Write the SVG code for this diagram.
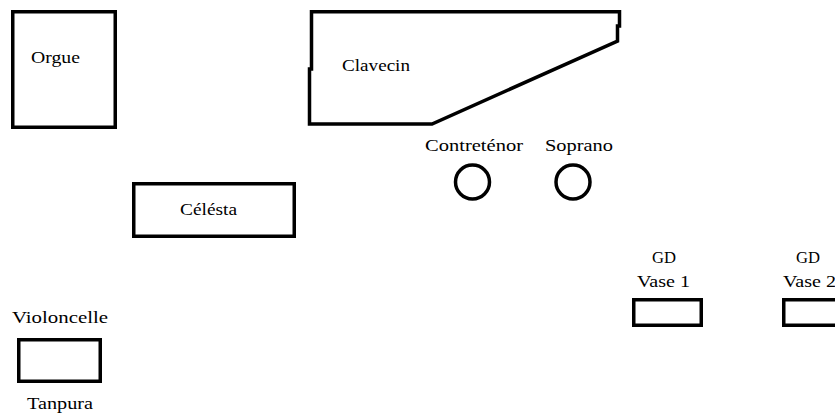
<svg xmlns="http://www.w3.org/2000/svg" width="835" height="414" viewBox="0 0 835 414">
<style>
.s{fill:none;stroke:#000;stroke-width:3.5}
text{font-family:Liberation Serif,Times New Roman,serif;font-size:17px;fill:#000}
.m{text-anchor:middle}
</style>
<rect width="835" height="414" fill="#fff"/>
<g id="orgue"><rect class="s" x="12.75" y="11.75" width="102.5" height="115.5"/><text x="31" y="63" textLength="49" lengthAdjust="spacingAndGlyphs">Orgue</text></g>
<g id="clavecin"><path class="s" d="M311.5,69 L311.5,11.75 L619.5,11.75 L619.5,26 L617.5,26 L617.5,41 L432,124 L309.5,124 L309.5,69 Z"/><text x="342" y="71" textLength="68" lengthAdjust="spacingAndGlyphs">Clavecin</text></g>
<g id="contretenor"><text x="425" y="151" textLength="98" lengthAdjust="spacingAndGlyphs">Contreténor</text><circle class="s" cx="472.5" cy="182" r="17"/></g>
<g id="soprano"><text x="545" y="151" textLength="68" lengthAdjust="spacingAndGlyphs">Soprano</text><circle class="s" cx="573" cy="182" r="17"/></g>
<g id="celesta"><rect class="s" x="133.75" y="183.75" width="160.5" height="52.5"/><text x="180" y="215" textLength="57" lengthAdjust="spacingAndGlyphs">Célésta</text></g>
<g id="violoncelle"><text x="12" y="323" textLength="96" lengthAdjust="spacingAndGlyphs">Violoncelle</text><rect class="s" x="18.75" y="339.75" width="81.5" height="41.5"/><text x="27" y="409" textLength="66" lengthAdjust="spacingAndGlyphs">Tanpura</text></g>
<g id="gd1"><text class="m" x="664" y="263" textLength="24" lengthAdjust="spacingAndGlyphs">GD</text><text x="637" y="287" textLength="53" lengthAdjust="spacingAndGlyphs">Vase 1</text><rect class="s" x="633.75" y="299.75" width="67.5" height="25.5"/></g>
<g id="gd2"><text class="m" x="808" y="263" textLength="24" lengthAdjust="spacingAndGlyphs">GD</text><text x="783" y="287" textLength="53" lengthAdjust="spacingAndGlyphs">Vase 2</text><rect class="s" x="783.75" y="299.75" width="67.5" height="25.5"/></g>
</svg>
